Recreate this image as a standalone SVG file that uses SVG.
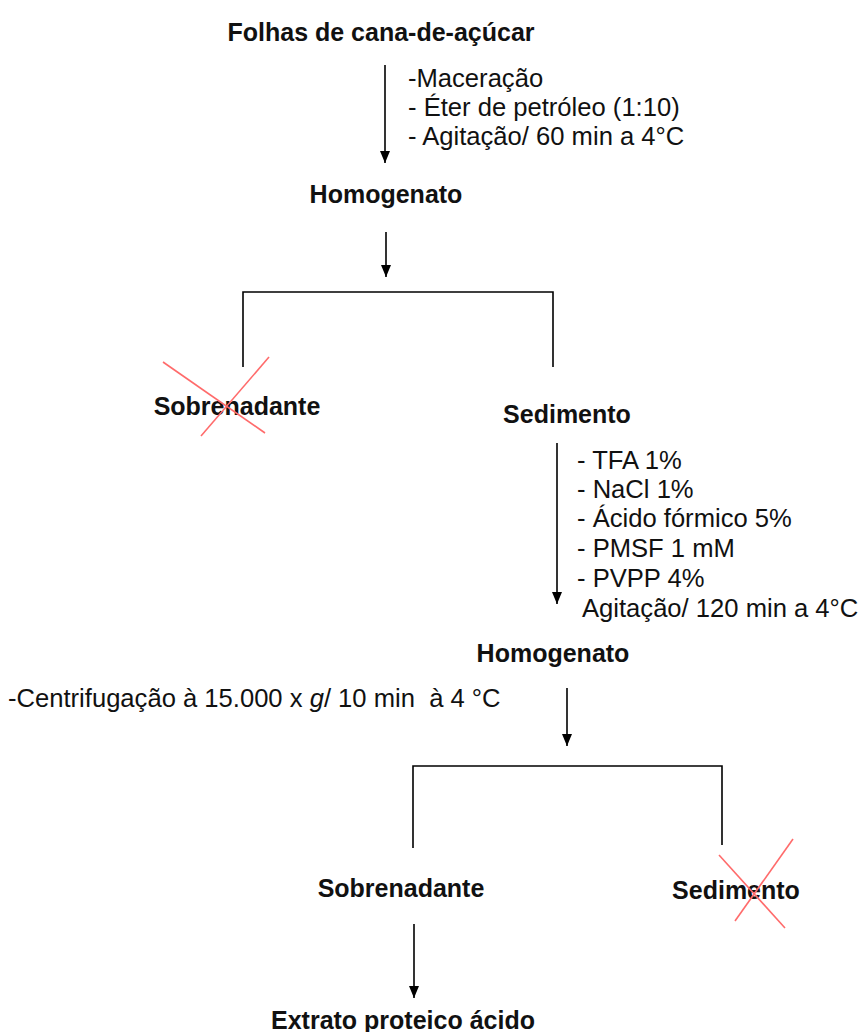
<svg xmlns="http://www.w3.org/2000/svg" width="862" height="1032" viewBox="0 0 862 1032">
<defs>
<marker id="ah" markerUnits="userSpaceOnUse" markerWidth="12" markerHeight="12" refX="12" refY="5" orient="auto">
<path d="M0,0 L12,5 L0,10 Z" fill="#000"/>
</marker>
<style>
.b{font-family:"Liberation Sans",Arial,sans-serif;font-weight:bold;font-size:25px;fill:#111;}
.r{font-family:"Liberation Sans",Arial,sans-serif;font-size:25.6px;fill:#111;}
.ln{stroke:#000;stroke-width:1.6;fill:none;}
.ar{stroke:#000;stroke-width:1.6;fill:none;marker-end:url(#ah);}
.x{stroke:#ff6b6b;stroke-width:1.6;fill:none;}
</style>
</defs>
<rect width="862" height="1032" fill="#fff"/>
<g id="connectors">
<line class="ar" x1="385" y1="65" x2="385" y2="163"/>
<line class="ar" x1="386" y1="232" x2="386" y2="277"/>
<path class="ln" d="M243,367 V292 H553 V367"/>
<line class="ar" x1="557" y1="443" x2="557" y2="604"/>
<line class="ar" x1="567" y1="688" x2="567" y2="746"/>
<path class="ln" d="M413,848 V766 H722 V845"/>
<line class="ar" x1="414" y1="924" x2="414" y2="998"/>
</g>
<g id="n-folhas"><text class="b" x="381" y="41" text-anchor="middle">Folhas de cana-de-açúcar</text></g>
<g id="n-notes1">
<text class="r" x="408" y="87">-Maceração</text>
<text class="r" x="408" y="116">- Éter de petróleo (1:10)</text>
<text class="r" x="408" y="145">- Agitação/ 60 min a 4°C</text>
</g>
<g id="n-homogenato1"><text class="b" x="386" y="203" text-anchor="middle">Homogenato</text></g>
<g id="n-sobrenadante1">
<text class="b" x="237" y="415" text-anchor="middle">Sobrenadante</text>
<line class="x" x1="163" y1="362" x2="265" y2="433"/>
<line class="x" x1="269" y1="357" x2="201" y2="436"/>
</g>
<g id="n-sedimento1"><text class="b" x="567" y="423" text-anchor="middle">Sedimento</text></g>
<g id="n-notes2">
<text class="r" x="577" y="469">- TFA 1%</text>
<text class="r" x="577" y="498">- NaCl 1%</text>
<text class="r" x="577" y="527">- Ácido fórmico 5%</text>
<text class="r" x="577" y="557">- PMSF 1 mM</text>
<text class="r" x="577" y="587">- PVPP 4%</text>
<text class="r" x="582" y="617">Agitação/ 120 min a 4°C</text>
</g>
<g id="n-homogenato2"><text class="b" x="553" y="662" text-anchor="middle">Homogenato</text></g>
<g id="n-centrifugacao"><text class="r" x="8" y="707" xml:space="preserve">-Centrifugação à 15.000 x <tspan font-style="italic">g</tspan>/ 10 min  à 4 °C</text></g>
<g id="n-sobrenadante2"><text class="b" x="401" y="897" text-anchor="middle">Sobrenadante</text></g>
<g id="n-sedimento2">
<text class="b" x="736" y="899" text-anchor="middle">Sedimento</text>
<line class="x" x1="719" y1="855" x2="785" y2="928"/>
<line class="x" x1="793" y1="839" x2="735" y2="921"/>
</g>
<g id="n-extrato"><text class="b" x="271" y="1029">Extrato proteico ácido</text></g>
</svg>
